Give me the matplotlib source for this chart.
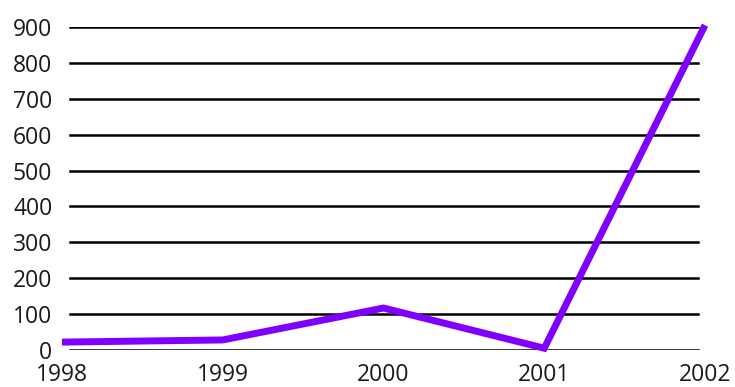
import matplotlib.pyplot as plt

years = [1998, 1999, 2000, 2001, 2002]
values = [22, 28, 117, 5, 905]
y_ticks = [0, 100, 200, 300, 400, 500, 600, 700, 800, 900]

plt.rcParams['font.family'] = ['Open Sans', 'DejaVu Sans']

fig = plt.figure(figsize=(7.35, 3.87), dpi=100)
W, H = 735, 387
x0, x1 = 62, 705
y0, y1 = 350, 27
ax = fig.add_axes([x0 / W, (H - y0) / H, (x1 - x0) / W, (y0 - y1) / H])

# horizontal rules, a bit narrower than the data span
gx0 = (70 - x0) / (x1 - x0)
gx1 = (698 - x0) / (x1 - x0)
for t in y_ticks:
    ax.axhline(t, xmin=gx0, xmax=gx1, color='black', lw=1.8, zorder=1)

ax.plot(years, values, color='#7f00ff', lw=5, solid_capstyle='butt',
        solid_joinstyle='miter', clip_on=False, zorder=3)

ax.set_xlim(1998, 2002)
ax.set_ylim(0, 900)
ax.set_xticks(years)
ax.set_yticks(y_ticks)
ax.tick_params(axis='both', length=0, labelsize=16.5, colors='#1a1a1a')
ax.tick_params(axis='y', pad=7)
ax.tick_params(axis='x', pad=9.5)
for s in ax.spines.values():
    s.set_visible(False)

fig.savefig('out.png', dpi=100)
